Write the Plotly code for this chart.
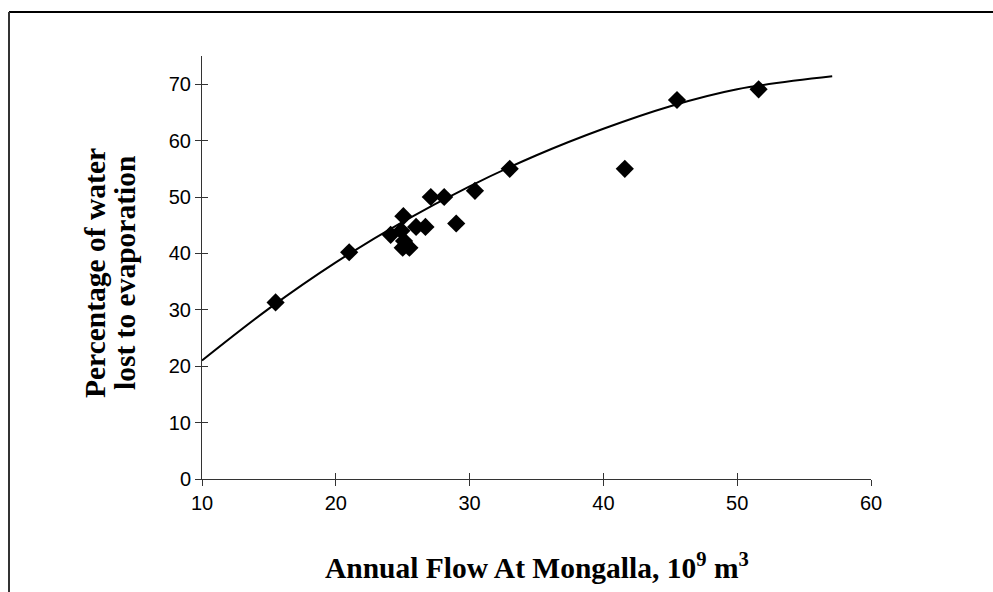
import plotly.graph_objects as go

flow = [15.5, 21.0, 24.1, 24.9, 25.05, 25.1, 25.0, 25.5, 26.0, 26.7, 27.1, 28.1, 29.0, 30.4, 33.0, 41.6, 45.5, 51.6]
evap = [31.3, 40.2, 43.3, 44.0, 46.6, 42.2, 41.0, 41.0, 44.7, 44.7, 50.0, 50.0, 45.3, 51.1, 55.0, 55.0, 67.2, 69.1]

# Trend curve
trend_x = [10, 15, 20, 25, 30, 35, 40, 45, 50, 57.1]
trend_y = [21.0, 30.2, 38.4, 45.6, 51.9, 57.4, 62.1, 66.1, 69.1, 71.4]

x_ticks = [10, 20, 30, 40, 50, 60]
y_ticks = [0, 10, 20, 30, 40, 50, 60, 70]

W, H = 993, 592
L, R, T, B = 202, 122, 56, 113
pw, ph = W - L - R, H - T - B

def px_x(p):
    return (p - L) / pw

def px_y(p):
    return (H - B - p) / ph

fig = go.Figure()
fig.add_trace(go.Scatter(x=trend_x, y=trend_y, mode="lines", line=dict(color="black", width=2, shape="spline"),
                         showlegend=False, hoverinfo="skip"))
fig.add_trace(go.Scatter(x=flow, y=evap, mode="markers",
                         marker=dict(symbol="diamond", size=14, color="black"), showlegend=False))
# dummy trace for the overlay axes (inside tick marks)
fig.add_trace(go.Scatter(x=[None], y=[None], xaxis="x2", yaxis="y2", showlegend=False))

tickfont = dict(family="Liberation Sans, Arial", size=20, color="black")
axcommon = dict(showgrid=False, zeroline=False, showline=True, linecolor="#333", linewidth=1,
                ticklen=6, tickcolor="#333", tickwidth=1)
fig.update_layout(
    width=W, height=H,
    margin=dict(l=L, r=R, t=T, b=B),
    paper_bgcolor="white", plot_bgcolor="white",
    xaxis=dict(range=[10, 60], tickvals=x_ticks, ticks="outside", tickfont=tickfont, **axcommon),
    yaxis=dict(range=[0, 75], tickvals=y_ticks, ticks="outside", tickfont=tickfont, **axcommon),
    xaxis2=dict(range=[10, 60], tickvals=x_ticks, ticks="inside", overlaying="x", showticklabels=False,
                anchor="y2", **axcommon),
    yaxis2=dict(range=[0, 75], tickvals=y_ticks, ticks="inside", overlaying="y", showticklabels=False,
                anchor="x2", **axcommon),
)

titlefont = dict(family="Liberation Serif, Times New Roman", size=29.5, color="black")
fig.add_annotation(text="<b>Annual Flow At Mongalla, 10<sup>9</sup> m<sup>3</sup></b>",
                   xref="paper", yref="paper", x=0.5, y=px_y(566), showarrow=False,
                   xanchor="center", yanchor="middle", font=titlefont)
fig.add_annotation(text="<b>Percentage of water</b>",
                   xref="paper", yref="paper", x=px_x(95), y=px_y(273), showarrow=False, textangle=-90,
                   xanchor="center", yanchor="middle", font=titlefont)
fig.add_annotation(text="<b>lost to evaporation</b>",
                   xref="paper", yref="paper", x=px_x(125), y=px_y(273), showarrow=False, textangle=-90,
                   xanchor="center", yanchor="middle", font=titlefont)

# chart-area border (top and left edges)
fig.add_shape(type="line", xref="paper", yref="paper", x0=px_x(9), x1=px_x(993), y0=px_y(12), y1=px_y(12),
              line=dict(color="black", width=2))
fig.add_shape(type="line", xref="paper", yref="paper", x0=px_x(9), x1=px_x(9), y0=px_y(12), y1=px_y(592),
              line=dict(color="#333", width=2))

fig.write_html("out.html", config={"displayModeBar": False},
               post_script="document.body.style.margin='0';document.body.style.overflow='hidden';")
